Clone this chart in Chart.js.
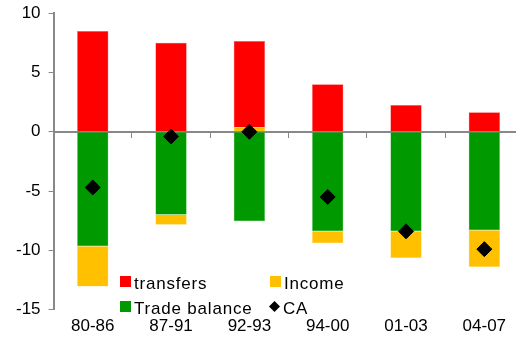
<!DOCTYPE html>
<html>
<head>
<meta charset="utf-8">
<script src="https://cdn.jsdelivr.net/npm/chart.js@4/dist/chart.umd.min.js"></script>
<style>
  html, body { margin: 0; padding: 0; overflow: hidden; background: #fff; }
  #caChart { display: block; margin-top: -5px; }
</style>
</head>
<body>
<canvas id="caChart" width="532" height="357"></canvas>
<script>
// Periods and current account components (% of GDP)
const periods = ['80-86', '87-91', '92-93', '94-00', '01-03', '04-07'];
const transfers = [8.5, 7.5, 7.25, 4.0, 2.25, 1.65];
const income = [-3.4, -0.85, 0.4, -1.0, -2.25, -3.1];
const tradeBalance = [-9.65, -7.0, -7.55, -8.4, -8.4, -8.3];
const currentAccount = [-4.7, -0.4, 0.0, -5.5, -8.4, -9.9];
const yTicks = [10, 5, 0, -5, -10, -15];

const axisGrey = '#888888';
const labelFont = { family: 'Liberation Sans, Arial, sans-serif', size: 17 };

// Legend laid out in two columns inside the plot area
const legendPlugin = {
  id: 'boxLegend',
  afterDraw(chart) {
    const ctx = chart.ctx;
    const items = [
      { text: 'transfers', color: '#FF0000', x: 120, y: 281, type: 'box' },
      { text: 'Income', color: '#FFC000', x: 270, y: 281, type: 'box' },
      { text: 'Trade balance', color: '#009900', x: 120, y: 306, type: 'box' },
      { text: 'CA', color: '#000000', x: 269, y: 306, type: 'diamond' }
    ];
    ctx.save();
    ctx.font = '17px Liberation Sans, Arial, sans-serif';
    ctx.letterSpacing = '0.8px';
    ctx.textBaseline = 'alphabetic';
    items.forEach(it => {
      ctx.fillStyle = it.color;
      if (it.type === 'box') {
        ctx.fillRect(it.x, it.y, 11, 11);
      } else {
        ctx.beginPath();
        ctx.moveTo(it.x + 5.5, it.y);
        ctx.lineTo(it.x + 11, it.y + 5.5);
        ctx.lineTo(it.x + 5.5, it.y + 11);
        ctx.lineTo(it.x, it.y + 5.5);
        ctx.closePath();
        ctx.fill();
      }
      ctx.fillStyle = '#000';
      ctx.fillText(it.text, it.x + 14, it.y + 13);
    });
    ctx.restore();
  }
};

const ctx = document.getElementById('caChart').getContext('2d');
const caChart = new Chart(ctx, {
  data: {
    labels: periods,
    datasets: [
      {
        type: 'scatter',
        label: 'CA',
        data: currentAccount.map((v, i) => ({ x: periods[i], y: v })),
        backgroundColor: '#000',
        borderColor: '#000',
        pointStyle: 'rectRot',
        pointRadius: 7.5,
        order: 0
      },
      {
        type: 'bar',
        label: 'Trade balance',
        data: tradeBalance,
        backgroundColor: '#009900',
        borderColor: '#6fcf6f',
        borderWidth: 0.5,
        order: 1
      },
      {
        type: 'bar',
        label: 'Income',
        data: income,
        backgroundColor: '#FFC000',
        borderColor: '#FFD866',
        borderWidth: 0.5,
        order: 1
      },
      {
        type: 'bar',
        label: 'transfers',
        data: transfers,
        backgroundColor: '#FF0000',
        borderColor: '#FF6666',
        borderWidth: 0.5,
        order: 1
      }
    ]
  },
  options: {
    responsive: false,
    animation: false,
    layout: { padding: { top: 7, right: 0, bottom: 8, left: 8 } },
    datasets: {
      bar: { barPercentage: 0.4, categoryPercentage: 1.0 }
    },
    plugins: {
      legend: { display: false },
      tooltip: { enabled: false }
    },
    scales: {
      x: {
        type: 'category',
        stacked: true,
        offset: true,
        border: { display: false },
        grid: { display: false, drawTicks: false },
        ticks: { color: '#000', font: labelFont, padding: 7, maxRotation: 0 }
      },
      // zero line with small tick marks between periods
      xZero: {
        type: 'category',
        labels: periods,
        position: { y: 0 },
        offset: true,
        border: { display: true, color: axisGrey, width: 2 },
        grid: { offset: true, drawOnChartArea: false, drawTicks: true, tickLength: 5, color: axisGrey, lineWidth: 1 },
        ticks: { display: false }
      },
      y: {
        stacked: true,
        min: -15,
        max: 10,
        afterBuildTicks(scale) {
          scale.ticks = yTicks.map(v => ({ value: v }));
        },
        border: { display: true, color: axisGrey, width: 2 },
        grid: { drawOnChartArea: false, drawTicks: true, tickLength: 5, color: axisGrey },
        ticks: { color: '#000', font: labelFont, padding: 8 }
      }
    }
  },
  plugins: [legendPlugin]
});
</script>
</body>
</html>
